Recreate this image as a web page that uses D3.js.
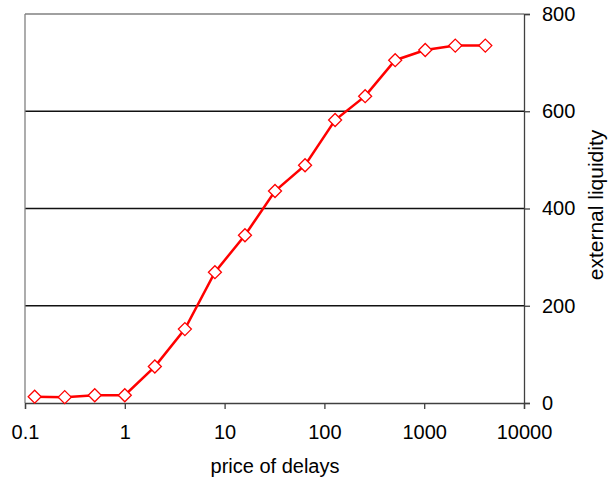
<!DOCTYPE html>
<html><head><meta charset="utf-8">
<script src="https://cdn.jsdelivr.net/npm/d3@7"></script>
<style>body{margin:0;background:#fff}svg{display:block;font-family:"Liberation Sans",Arial,sans-serif}</style>
</head><body>
<script>
const prices = [0.125,0.25,0.5,1,2,4,8,16,32,64,128,256,512,1024,2048,4096];
const liquidity = [13,12,16,16,75,152,269,345,436,489,582,631,705,726,735,735];
const xTicks = [0.1,1,10,100,1000,10000];
const yTicks = [0,200,400,600,800];
const xLabel = "price of delays";
const yLabel = "external liquidity";

const W=609,H=482;
const L=25,R=524,T=14,B=403;
const svg=d3.select("body").append("svg").attr("width",W).attr("height",H);
const x=d3.scaleLog().domain([0.1,10000]).range([L,R]);
const y=d3.scaleLinear().domain([0,800]).range([B,T]);

// gridlines
svg.selectAll(".g").data(yTicks.filter(v=>v>0&&v<800)).enter().append("line")
 .attr("x1",L).attr("x2",R).attr("y1",d=>y(d)).attr("y2",d=>y(d))
 .attr("stroke","#111").attr("stroke-width",1.3);
// frame top & left
svg.append("line").attr("x1",L).attr("x2",R).attr("y1",T).attr("y2",T).attr("stroke","#808080").attr("stroke-width",1.3);
svg.append("line").attr("x1",L).attr("x2",L).attr("y1",T).attr("y2",B).attr("stroke","#808080").attr("stroke-width",1.3);

// x axis
const xa=svg.append("g").attr("transform",`translate(0,${B})`)
 .call(d3.axisBottom(x).tickValues(xTicks).tickFormat(d=>String(d)).tickSize(6).tickPadding(16));
xa.select(".domain").attr("stroke","#404040").attr("stroke-width",1.3);
xa.selectAll(".tick line").attr("stroke","#404040").attr("stroke-width",1.3);
xa.selectAll("text").attr("font-size",20).attr("fill","#000").attr("font-family","Liberation Sans, Arial, sans-serif");

// y axis right
const ya=svg.append("g").attr("transform",`translate(${R},0)`)
 .call(d3.axisRight(y).tickValues(yTicks).tickFormat(d3.format("d")).tickSize(6).tickPadding(12));
ya.select(".domain").attr("stroke","#404040").attr("stroke-width",1.3);
ya.selectAll(".tick line").attr("stroke","#404040").attr("stroke-width",1.3);
ya.selectAll("text").attr("font-size",20).attr("fill","#000").attr("font-family","Liberation Sans, Arial, sans-serif");

// titles
svg.append("text").attr("x",275).attr("y",472.5).attr("text-anchor","middle")
 .attr("font-size",20).text(xLabel);
svg.append("text").attr("transform",`translate(603,205) rotate(-90)`).attr("text-anchor","middle")
 .attr("font-size",21).text(yLabel);

const data=prices.map((p,i)=>({p,v:liquidity[i]}));
svg.append("path").datum(data)
 .attr("d",d3.line().x(d=>x(d.p)).y(d=>y(d.v)))
 .attr("fill","none").attr("stroke","#ff0000").attr("stroke-width",2.5);
svg.selectAll(".m").data(data).enter().append("path")
 .attr("transform",d=>`translate(${x(d.p)},${y(d.v)})`)
 .attr("d","M0,-6.5L6.5,0L0,6.5L-6.5,0Z")
 .attr("fill","#fff").attr("stroke","#ff0000").attr("stroke-width",1.3);
</script>
</body></html>
